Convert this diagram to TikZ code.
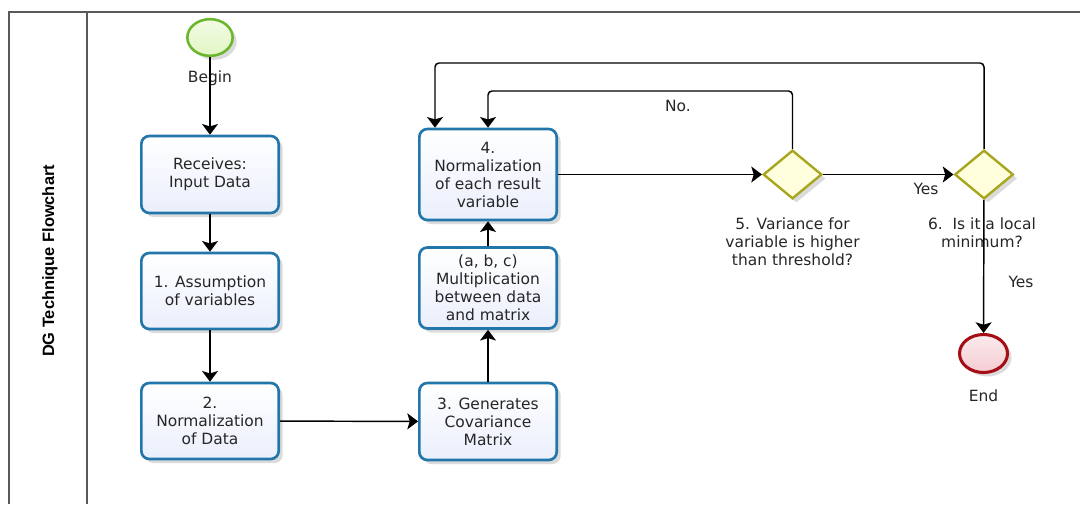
\documentclass[tikz,border=0pt]{standalone}
\usepackage{fontspec}
\setmainfont{DejaVu Sans}
\newfontfamily\poolfont{Liberation Sans}
\usetikzlibrary{shapes.geometric, arrows.meta, shadows}

\definecolor{taskline}{RGB}{34,118,170}
\definecolor{taskfill}{RGB}{234,239,252}
\definecolor{gateline}{RGB}{168,166,30}
\definecolor{gatefill}{RGB}{255,255,222}
\definecolor{startline}{RGB}{108,182,44}
\definecolor{startfill}{RGB}{226,246,196}
\definecolor{endline}{RGB}{165,14,20}
\definecolor{endfill}{RGB}{244,204,210}
\definecolor{ink}{RGB}{38,38,38}
\definecolor{framegray}{RGB}{90,90,90}

\begin{document}
\begin{tikzpicture}[x=0.75pt, y=-0.75pt,
  every node/.style={font=\fontsize{11.6}{13.5}\selectfont, text=ink},
  softshadow/.style={drop shadow={shadow xshift=3pt, shadow yshift=-3pt, opacity=0.14, fill=black}},
  task/.style={rectangle, rounded corners=6pt, draw=taskline, line width=2pt,
    top color=white, bottom color=taskfill, minimum width=103pt,
    inner sep=0pt, align=center, softshadow},
  gate/.style={diamond, aspect=1.2, draw=gateline, line width=1.8pt,
    fill=gatefill, minimum width=44pt, minimum height=36.5pt,
    inner sep=0pt, softshadow},
  startev/.style={ellipse, draw=startline, line width=1.9pt,
    top color=startfill!45!white, bottom color=startfill,
    minimum width=34pt, minimum height=27.5pt, inner sep=0pt, softshadow},
  endev/.style={ellipse, draw=endline, line width=2.3pt,
    top color=endfill!40!white, bottom color=endfill,
    minimum width=36pt, minimum height=28.5pt, inner sep=0pt, softshadow},
  lbl/.style={align=center, inner sep=0pt},
  flow/.style={draw=black, line width=1.1pt,
    -{Stealth[length=8pt, width=12pt, inset=1.8pt]}},
  loopflow/.style={flow, rounded corners=3pt}
]
\useasboundingbox (0,0) rectangle (1080,504);

% pool frame and lane header
\draw[framegray, line width=1.7pt] (9,504) -- (9,12) -- (1082,12);
\draw[framegray, line width=1.7pt] (87,12) -- (87,504);
\node[rotate=90, inner sep=0pt, text=black,
      font=\poolfont\bfseries\fontsize{12.3}{14}\selectfont] (pool) at (50,261)
      {DG Technique Flowchart};

% events
\node[startev] (begin) at (210,37.5) {};
\node[lbl] (beginlbl) at (210,78) {Begin};
\node[endev] (end) at (983.5,353.5) {};
\node[lbl] (endlbl) at (983.5,396) {End};

% tasks
\node[task, minimum height=57.75pt] (receive) at (210,174.5) {Receives:\\Input Data};
\node[task, minimum height=57pt] (assume) at (210,291) {1. Assumption\\of variables};
\node[task, minimum height=57pt] (normdata) at (210,421) {2.\\Normalization\\of Data};
\node[task, minimum height=57.75pt] (covar) at (488,421.5) {3. Generates\\Covariance\\Matrix};
\node[task, minimum height=60.75pt] (mult) at (488,288) {(a, b, c)\\Multiplication\\between data\\and matrix};
\node[task, minimum height=68.25pt] (normres) at (488,174.5) {4.\\Normalization\\of each result\\variable};

% gateways
\node[gate] (varcheck) at (792.5,174.5) {};
\node[lbl] (varlbl) at (792.5,242) {5. Variance for\\variable is higher\\than threshold?};
\node[gate] (mincheck) at (984,174.5) {};
\node[lbl] (minlbl) at (982,232.5) {6.\ \ Is it a local\\minimum?};

% sequence flows
\draw[flow] (begin) -- (receive);
\draw[flow] (receive) -- (assume);
\draw[flow] (assume) -- (normdata);
\draw[flow] (normdata) -- (covar);
\draw[flow] (covar) -- (mult);
\draw[flow] (mult) -- (normres);
\draw[flow] (normres) -- (varcheck);
\draw[flow] (varcheck) -- (mincheck);
\draw[flow] (mincheck) -- (end);

% loop back when the variance is still too high
\coordinate (noturn) at (488,91);
\draw[loopflow] (varcheck.north) |- (noturn) -- (normres.north);
\node[lbl] (nolbl) at (678,106) {No.};

% loop back when no local minimum is reached
\coordinate (topturn) at (435,63);
\draw[loopflow] (mincheck.north) |- (topturn) -- (topturn |- normres.north);

% flow labels
\node[lbl] (yes1) at (926,189) {Yes};
\node[lbl] (yes2) at (1021,282) {Yes};
\end{tikzpicture}
\end{document}
